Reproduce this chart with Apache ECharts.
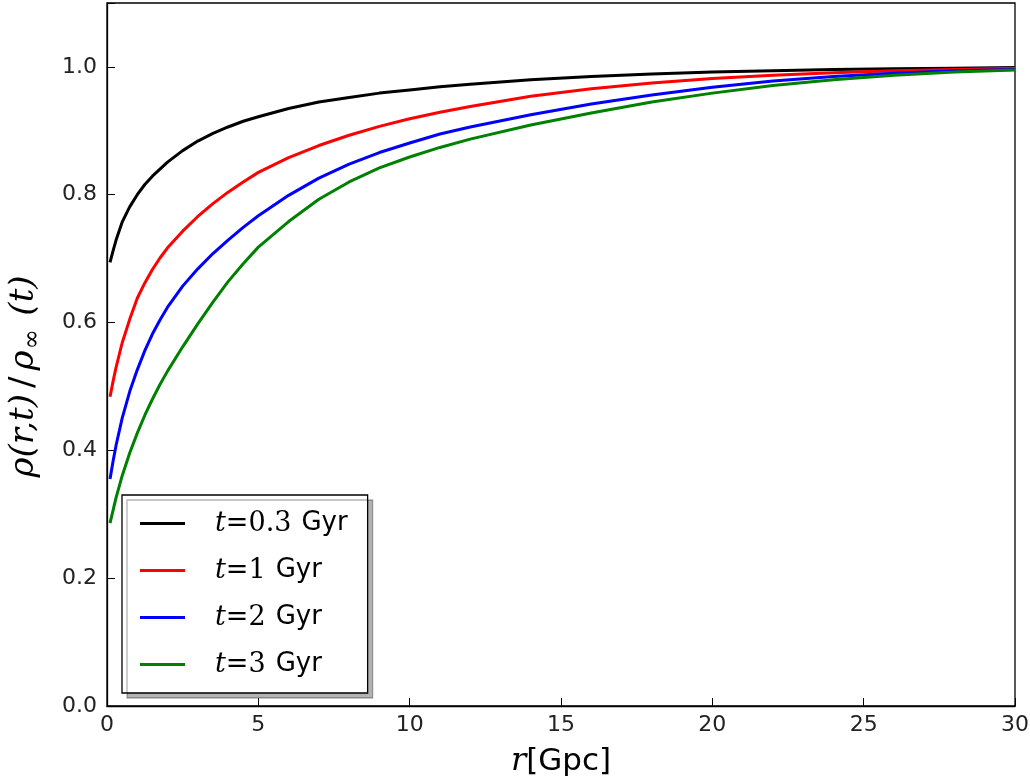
<!DOCTYPE html>
<html>
<head>
<meta charset="utf-8">
<script src="https://cdn.jsdelivr.net/npm/echarts@6/dist/echarts.min.js"></script>
<style>
  html, body { margin: 0; padding: 0; background: #fff; }
  #main { width: 1030px; height: 778px; }
</style>
</head>
<body>
<div id="main"></div>
<script>
  // r in Gpc
  const rValues = [0.1, 0.2, 0.3, 0.5, 0.75, 1, 1.25, 1.5, 1.75, 2, 2.5, 3, 3.5, 4, 4.5, 5, 6, 7, 8, 9, 10, 11, 12, 14, 16, 18, 20, 22, 24, 26, 28, 30]
  const rho03 = [0.694, 0.712, 0.729, 0.757, 0.781, 0.800, 0.816, 0.829, 0.840, 0.851, 0.869, 0.884, 0.896, 0.906, 0.915, 0.922, 0.935, 0.945, 0.952, 0.959, 0.964, 0.969, 0.973, 0.980, 0.985, 0.989, 0.992, 0.994, 0.996, 0.997, 0.998, 0.999]
  const rho1 = [0.484, 0.508, 0.530, 0.568, 0.605, 0.638, 0.662, 0.683, 0.701, 0.717, 0.743, 0.766, 0.786, 0.804, 0.820, 0.835, 0.858, 0.877, 0.893, 0.907, 0.919, 0.929, 0.938, 0.954, 0.966, 0.975, 0.982, 0.987, 0.991, 0.994, 0.996, 0.998]
  const rho2 = [0.355, 0.383, 0.408, 0.450, 0.492, 0.526, 0.556, 0.582, 0.604, 0.624, 0.657, 0.684, 0.708, 0.729, 0.749, 0.767, 0.799, 0.826, 0.848, 0.866, 0.881, 0.895, 0.906, 0.925, 0.942, 0.956, 0.968, 0.978, 0.985, 0.990, 0.994, 0.996]
  const rho3 = [0.286, 0.306, 0.326, 0.360, 0.396, 0.427, 0.455, 0.480, 0.503, 0.524, 0.562, 0.598, 0.632, 0.664, 0.692, 0.718, 0.758, 0.793, 0.820, 0.842, 0.859, 0.874, 0.887, 0.909, 0.928, 0.945, 0.959, 0.971, 0.980, 0.987, 0.992, 0.995]
  const seriesNames = ['t=0.3', 't=1', 't=2', 't=3']
  const seriesColors = ['#000000', '#ff0000', '#0000ff', '#008000']
  const xTicks = [0, 5, 10, 15, 20, 25, 30]
  const yTicks = [0.0, 0.2, 0.4, 0.6, 0.8, 1.0]

  const allData = [rho03, rho1, rho2, rho3]
  const chart = echarts.init(document.getElementById('main'))

  const tickStyle = { show: true, inside: true, length: 8, lineStyle: { color: '#000', width: 1 } }
  const labelFont = { color: '#222', fontFamily: 'DejaVu Sans', fontSize: 22 }

  const option = {
    animation: false,
    backgroundColor: '#fff',
    grid: {
      left: 107, right: 15, top: 3, bottom: 72,
      containLabel: false, outerBoundsMode: 'none',
      show: true, borderColor: '#000', borderWidth: 1.3, backgroundColor: 'transparent'
    },
    legend: {
      orient: 'vertical',
      left: 122,
      top: 495,
      data: seriesNames,
      icon: 'rect',
      itemWidth: 45,
      itemHeight: 3,
      itemGap: 20,
      padding: [15, 20, 15, 18],
      backgroundColor: '#fff',
      borderColor: '#000',
      borderWidth: 1.3,
      shadowColor: 'rgba(0,0,0,0.3)',
      shadowBlur: 0,
      shadowOffsetX: 5,
      shadowOffsetY: 5,
      formatter: function (name) {
        return '{i|t}{m|=' + name.slice(2) + '}{s|Gyr}'
      },
      textStyle: {
        padding: [0, 0, 0, 25],
        lineHeight: 26,
        rich: {
          i: { fontFamily: 'DejaVu Serif', fontStyle: 'italic', fontSize: 27, color: '#000' },
          m: { fontFamily: 'DejaVu Serif', fontSize: 27, color: '#000', padding: [0, 10, 0, 0] },
          s: { fontFamily: 'DejaVu Sans', fontSize: 26, color: '#000' }
        }
      }
    },
    xAxis: {
      type: 'value', min: 0, max: 30, interval: 5,
      axisLine: { show: true, lineStyle: { color: '#000', width: 1.3 } },
      axisTick: tickStyle, splitLine: { show: false },
      axisLabel: Object.assign({ margin: 8, formatter: function (v) { return xTicks.indexOf(v) >= 0 ? String(v) : '' } }, labelFont),
      name: '{i|r}{s|[Gpc]}',
      nameLocation: 'middle',
      nameGap: 40,
      nameTextStyle: {
        rich: {
          i: { fontFamily: 'DejaVu Serif', fontStyle: 'italic', fontSize: 32, color: '#000' },
          s: { fontFamily: 'DejaVu Sans', fontSize: 31, color: '#000' }
        }
      }
    },
    yAxis: {
      type: 'value', min: 0, max: 1.1, interval: 0.2,
      axisLine: { show: true, lineStyle: { color: '#000', width: 1.3 } },
      axisTick: tickStyle, splitLine: { show: false },
      axisLabel: Object.assign({
        margin: 10,
        formatter: function (v) {
          const hit = yTicks.find(t => Math.abs(t - v) < 1e-6)
          return hit === undefined ? '' : hit.toFixed(1)
        }
      }, labelFont),
      name: '{a|ρ(r,t)}{b|/}{a|ρ}{sub|∞}{a|(t)}',
      nameLocation: 'middle',
      nameGap: 62,
      nameTextStyle: {
        padding: [0, 44, 0, 0],
        rich: {
          a: { fontFamily: 'DejaVu Serif', fontStyle: 'italic', fontSize: 34, color: '#000' },
          b: { fontFamily: 'DejaVu Serif', fontSize: 34, color: '#000', padding: [0, 6, 0, 6] },
          sub: { fontFamily: 'DejaVu Serif', fontSize: 24, color: '#000', padding: [18, 14, 0, 1] }
        }
      }
    },
    series: seriesNames.map(function (name, i) {
      return {
        name: name,
        type: 'line',
        showSymbol: false,
        symbol: 'none',
        smooth: false,
        color: seriesColors[i],
        lineStyle: { color: seriesColors[i], width: 3, join: 'round' },
        data: rValues.map(function (r, j) { return [r, allData[i][j]] })
      }
    })
  }

  chart.setOption(option)
  window.addEventListener('resize', function () {
    chart.resize()
  })
</script>
</body>
</html>
